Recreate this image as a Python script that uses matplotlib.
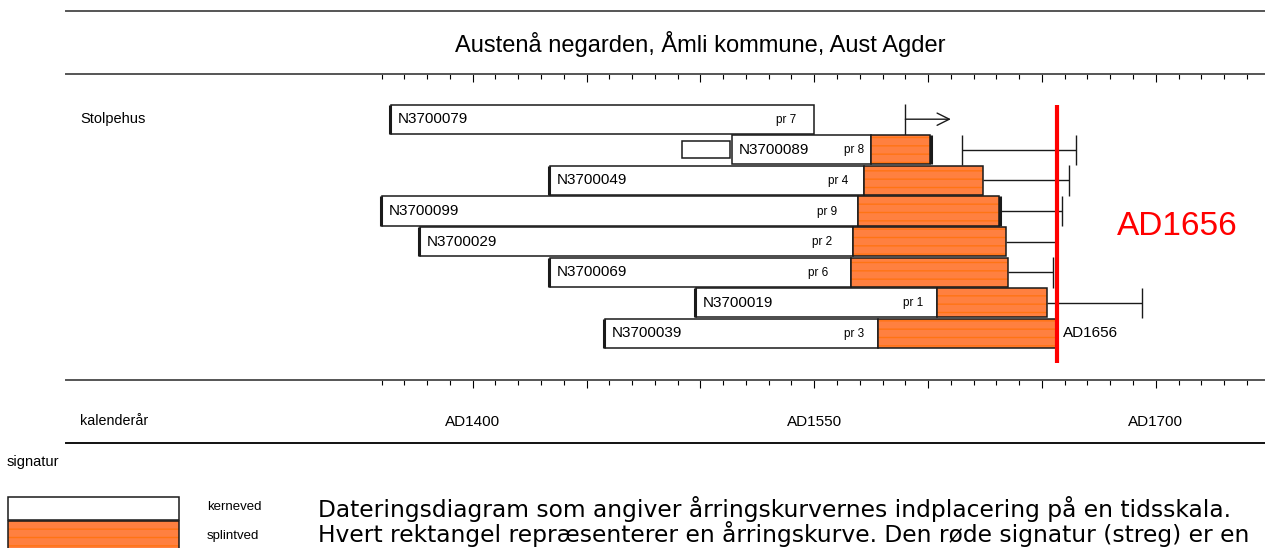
import matplotlib
matplotlib.use("Agg")
import matplotlib.pyplot as plt
from matplotlib.lines import Line2D
from matplotlib.patches import Rectangle
from matplotlib.ticker import FixedLocator, FuncFormatter

plt.rcParams['font.family'] = ['Liberation Sans', 'DejaVu Sans']
plt.rcParams['hatch.linewidth'] = 1.0

# ---------------- data ----------------
title = "Austenå negarden, Åmli kommune, Aust Agder"
group_label = "Stolpehus"
axis_label = "kalenderår"
names = ['N3700079', 'N3700089', 'N3700049', 'N3700099',
         'N3700029', 'N3700069', 'N3700019', 'N3700039']
pr_labels = ['pr 7', 'pr 8', 'pr 4', 'pr 9', 'pr 2', 'pr 6', 'pr 1', 'pr 3']
start_year = [1364, 1514, 1434, 1360, 1377, 1434, 1498, 1458]
sap_start = [None, 1575, 1572, 1569, 1567, 1566, 1604, 1578]
end_year = [1550, 1601, 1624, 1631, 1634, 1635, 1652, 1656]
pr_label_year = [1542, 1572, 1565, 1560, 1558, 1556, 1598, 1572]
pith_mark = [True, False, True, True, True, True, True, True]
bark_mark = [False, True, False, True, False, False, False, False]
whisker_lo = [1590, 1615, 1624, 1631, 1634, 1635, 1652, None]
whisker_hi = [1610, 1665, 1662, 1659, 1656, 1655, 1694, None]
whisker_open = [True, False, False, False, False, False, False, False]
extra_box = (1492, 1513)          # small detached segment of N3700089
felling_year = 1656
felling_label = "AD1656"
tick_label_years = [1400, 1550, 1700]
major_years = list(range(1400, 1701, 50))
minor_years = list(range(1360, 1741, 10))
legend_labels = ['kerneved', 'splintved']
legend_title = 'signatur'
body_lines = [
    "Dateringsdiagram som angiver årringskurvernes indplacering på en tidsskala.",
    "Hvert rektangel repræsenterer en årringskurve. Den røde signatur (streg) er en",
]

# ---------------- layout ----------------
W, H = 1265, 548
def fx(px): return px / W
def fy(py): return 1 - py / H

ORANGE = '#FF8040'
STRIPE = '#FF7414'
EDGE = '#1a1a1a'

fig = plt.figure(figsize=(W / 100, H / 100), dpi=100)

px_per_year = 2.277
x1400 = 472.7
left_px, right_px = 66, 1265
top_px, bot_px = 74, 380
row0_px, row_step = 119.2, 30.6

ax = fig.add_axes([fx(left_px), fy(bot_px), (right_px - left_px) / W, (bot_px - top_px) / H])
ax.set_xlim(1400 - (x1400 - left_px) / px_per_year, 1400 + (right_px - x1400) / px_per_year)
ax.set_ylim((bot_px - row0_px) / row_step, (top_px - row0_px) / row_step)
for s in ['left', 'right', 'top']:
    ax.spines[s].set_visible(False)
ax.spines['bottom'].set_color('#555555')
ax.spines['bottom'].set_linewidth(1.4)
ax.set_yticks([])

ax.xaxis.set_major_locator(FixedLocator(major_years))
ax.xaxis.set_minor_locator(FixedLocator(minor_years))
ax.xaxis.set_major_formatter(FuncFormatter(
    lambda v, p: f"AD{int(round(v))}" if int(round(v)) in tick_label_years else ""))
ax.tick_params(axis='x', which='major', direction='out', length=6, width=0.8,
               pad=19, labelsize=11)
ax.tick_params(axis='x', which='minor', direction='out', length=3.6, width=0.8)

sec = ax.secondary_xaxis('top')
sec.xaxis.set_major_locator(FixedLocator(major_years))
sec.xaxis.set_minor_locator(FixedLocator(minor_years))
sec.tick_params(axis='x', which='major', direction='in', length=6, width=0.8, labeltop=False)
sec.tick_params(axis='x', which='minor', direction='in', length=3.6, width=0.8)
sec.spines['top'].set_color('#555555')
sec.spines['top'].set_linewidth(1.4)

bh = 0.95
for i in range(len(names)):
    s, e, sp = start_year[i], end_year[i], sap_start[i]
    heart_end = sp if sp is not None else e
    ax.barh(i, heart_end - s, left=s, height=bh, color='white', edgecolor=EDGE, linewidth=1.1, zorder=2)
    if sp is not None:
        ax.barh(i, e - sp, left=sp, height=bh, color=ORANGE, edgecolor=STRIPE,
                hatch='--', linewidth=0, zorder=2)
        ax.barh(i, e - sp, left=sp, height=bh, fill=False, edgecolor=EDGE, linewidth=1.1, zorder=3)
    if pith_mark[i]:
        ax.vlines(s - 0.4, i - bh / 2, i + bh / 2, color=EDGE, linewidth=2.2, zorder=4)
    if bark_mark[i]:
        ax.vlines(e + 0.4, i - bh / 2, i + bh / 2, color=EDGE, linewidth=2.2, zorder=4)
    ax.text(s + 3, i, names[i], ha='left', va='center', fontsize=11, zorder=5)
    ax.text(pr_label_year[i], i + 0.02, pr_labels[i], ha='right', va='center', fontsize=8.5, zorder=5)
    lo, hi = whisker_lo[i], whisker_hi[i]
    if lo is not None:
        if whisker_open[i]:
            ax.vlines(lo, i - 0.5, i + 0.5, color=EDGE, linewidth=1, zorder=2)
            ax.annotate('', xy=(hi, i), xytext=(lo, i),
                        arrowprops=dict(arrowstyle='->', lw=1, color=EDGE,
                                        mutation_scale=22, shrinkA=0, shrinkB=0))
        else:
            ax.hlines(i, lo, hi, color=EDGE, linewidth=1, zorder=1)
            ax.vlines(hi, i - 0.5, i + 0.5, color=EDGE, linewidth=1, zorder=1)
            if lo > e:
                ax.vlines(lo, i - 0.5, i + 0.5, color=EDGE, linewidth=1, zorder=1)

# detached segment of N3700089
ax.barh(1, extra_box[1] - extra_box[0], left=extra_box[0], height=0.56,
        color='white', edgecolor=EDGE, linewidth=1.1, zorder=2)

# felling line
ax.vlines(felling_year + 0.5, -0.47, 7.97, color='#FF0000', linewidth=3, zorder=6)
ax.text(felling_year + 3.2, 7, felling_label, ha='left', va='center', fontsize=11, zorder=6)
ax.text(felling_year + 27, 3.52, felling_label, ha='left', va='center', fontsize=24,
        color='#FF0000', zorder=6)

# frame lines and labels
fig.add_artist(Line2D([fx(left_px), 1], [fy(11), fy(11)], color='#555555', linewidth=1.4))
fig.add_artist(Line2D([fx(left_px), 1], [fy(443), fy(443)], color='#111111', linewidth=1.4))
fig.text(fx(700), fy(44), title, ha='center', va='center', fontsize=17)
fig.text(fx(80), fy(119), group_label, ha='left', va='center', fontsize=10.5)
fig.text(fx(80), fy(421), axis_label, ha='left', va='center', fontsize=10.3)

# legend
fig.text(fx(7), fy(462), legend_title, ha='left', va='center', fontsize=10.5)
fig.add_artist(Rectangle((fx(8), fy(520)), fx(171), 23 / H, transform=fig.transFigure,
                         facecolor='white', edgecolor=EDGE, linewidth=1.1))
fig.add_artist(Rectangle((fx(8), fy(552)), fx(171), 31 / H, transform=fig.transFigure,
                         facecolor=ORANGE, edgecolor=STRIPE, hatch='--', linewidth=0))
fig.add_artist(Rectangle((fx(8), fy(552)), fx(171), 31 / H, transform=fig.transFigure,
                         fill=False, edgecolor=EDGE, linewidth=1.1))
fig.text(fx(207), fy(507), legend_labels[0], ha='left', va='center', fontsize=9.5)
fig.text(fx(207), fy(536), legend_labels[1], ha='left', va='center', fontsize=9.5)

body_baselines = [517, 542]
for k, line in enumerate(body_lines):
    fig.text(fx(318), fy(body_baselines[k]), line, ha='left', va='baseline',
             fontsize=16.8, family=['DejaVu Sans'])

fig.savefig('out.png', dpi=100)
